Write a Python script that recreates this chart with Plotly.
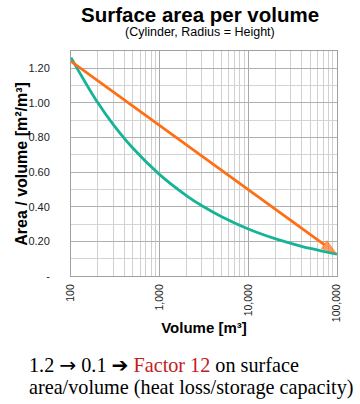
import plotly.graph_objects as go

# Data
volume = [100, 200, 300, 500, 1000, 2000, 3000, 5000, 10000, 20000, 30000, 50000, 100000]
area_per_volume = [1.262, 1.002, 0.875, 0.738, 0.586, 0.465, 0.406, 0.343, 0.272, 0.216, 0.189, 0.159, 0.126]

arrow_x = [100, 100000]
arrow_y = [1.24, 0.128]

y_tickvals = [0, 0.2, 0.4, 0.6, 0.8, 1.0, 1.2]
y_ticktext = ["-", "0.20", "0.40", "0.60", "0.80", "1.00", "1.20"]
x_tickvals = [100, 1000, 10000, 100000]
x_ticktext = ["100", "1,000", "10,000", "100,000"]

GREEN = "#16b496"
ORANGE = "#ff6e12"
FONT = "Liberation Sans, Arial, sans-serif"
SERIF = "Liberation Serif, Times New Roman, serif"

fig = go.Figure()
fig.add_trace(go.Scatter(x=volume, y=area_per_volume, mode="lines",
                         line=dict(color=GREEN, width=2.8, shape="spline"),
                         hoverinfo="skip", cliponaxis=False))
fig.add_trace(go.Scatter(x=arrow_x, y=arrow_y, mode="lines+markers",
                         line=dict(color=ORANGE, width=2.8),
                         marker=dict(symbol=["circle", "arrow"], size=[0, 17],
                                     angleref="previous", color=ORANGE,
                                     line=dict(width=0)),
                         hoverinfo="skip", cliponaxis=False))

fig.update_layout(
    width=360, height=404,
    margin=dict(l=71, r=23, t=51, b=127.5, autoexpand=False),
    paper_bgcolor="white", plot_bgcolor="white",
    showlegend=False,
    font=dict(family=FONT, color="#000"),
    xaxis=dict(type="log", range=[2, 5], tickvals=x_tickvals, ticktext=x_ticktext,
               tickangle=-90, tickfont=dict(size=10.5, color="#222"),
               showgrid=True, gridcolor="#a8a8a8", gridwidth=1.5,
               minor=dict(showgrid=True, gridcolor="#d0d0d0", gridwidth=1, dtick="D1"),
               showline=True, linecolor="#a0a0a0", linewidth=1, mirror=True,
               ticks="", zeroline=False, ticklabelstandoff=3, automargin=False,
               title=dict(text="<b>Volume [m³]</b>", font=dict(size=15), standoff=1)),
    yaxis=dict(range=[0, 1.3], tickvals=y_tickvals, ticktext=y_ticktext,
               tickfont=dict(size=11, color="#222"),
               showgrid=True, gridcolor="#b0b0b0", gridwidth=1,
               minor=dict(showgrid=True, gridcolor="#d4d4d4", gridwidth=1, dtick=0.1),
               showline=True, linecolor="#a0a0a0", linewidth=1, mirror=True,
               ticks="", zeroline=False, ticklabelstandoff=18, automargin=False),
    annotations=[
        dict(text="<b>Surface area per volume</b>", x=200, y=14, showarrow=False,
             font=dict(size=20.5), xanchor="center"),
        dict(text="(Cylinder, Radius = Height)", x=200, y=32, showarrow=False,
             font=dict(size=12.5), xanchor="center"),
        dict(text="<b>Area / volume [m²/m³]</b>", x=22, y=164, showarrow=False,
             textangle=-90, font=dict(size=16), xanchor="center"),
        dict(text="1.2 <span style='font-family:DejaVu Sans'>→</span> 0.1 "
                  "<span style='font-family:DejaVu Sans'>➔</span> "
                  "<span style='color:#c0201c'>Factor 12</span> on surface",
             x=28, y=366, showarrow=False, xanchor="left",
             font=dict(family=SERIF, size=20.2)),
        dict(text="area/volume (heat loss/storage capacity)",
             x=28, y=388, showarrow=False, xanchor="left",
             font=dict(family=SERIF, size=20.2)),
    ],
)

# convert pixel positions of annotations to paper coords
plot_l, plot_r, plot_t, plot_b = 71, 337, 51, 276.5
for a in fig.layout.annotations:
    px, py = a.x, a.y
    a.xref = "paper"
    a.yref = "paper"
    a.x = (px - plot_l) / (plot_r - plot_l)
    a.y = (plot_b - py) / (plot_b - plot_t)
    a.yanchor = "middle"
    a.borderpad = 0

fig.write_html("out.html", config={"displayModeBar": False, "staticPlot": True},
               post_script="document.body.style.margin='0';")
